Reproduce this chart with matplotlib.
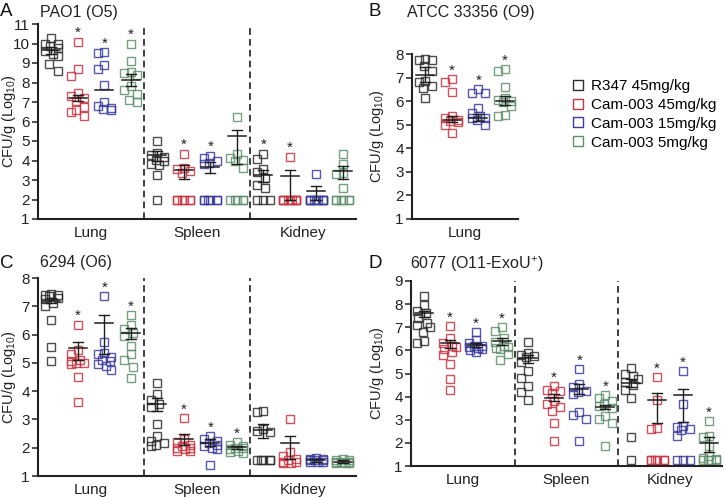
import numpy as np
import matplotlib
matplotlib.use("Agg")
import matplotlib.pyplot as plt
from matplotlib.lines import Line2D

plt.rcParams['font.family'] = ['Liberation Sans', 'DejaVu Sans']
plt.rcParams['mathtext.fontset'] = 'custom'
plt.rcParams['mathtext.rm'] = 'Liberation Sans'
plt.rcParams['mathtext.it'] = 'Liberation Sans:italic'

GROUPS = ["R347 45mg/kg", "Cam-003 45mg/kg", "Cam-003 15mg/kg", "Cam-003 5mg/kg"]
ORGANS = ["Lung", "Spleen", "Kidney"]

# ---------------- Panel A: PAO1 (O5) ----------------
A_LUNG = [
    [10.3, 10.0, 9.95, 9.85, 9.75, 9.6, 9.45, 9.35, 8.95, 8.6],
    [10.1, 8.7, 8.35, 7.45, 7.3, 7.2, 7.05, 6.75, 6.6, 6.5, 6.3],
    [9.55, 9.5, 8.9, 8.7, 7.85, 7.0, 6.8, 6.7, 6.65, 6.6],
    [10.0, 9.1, 8.55, 8.5, 8.4, 7.8, 7.6, 7.4, 7.1, 7.0],
]
A_SPLEEN = [
    [5.0, 4.4, 4.3, 4.2, 4.05, 3.95, 3.8, 3.75, 3.25, 2.0],
    [4.35, 3.6, 3.55, 3.45, 3.35, 2.0, 2.0, 2.0, 2.0, 2.0, 2.0],
    [4.25, 4.15, 4.0, 3.85, 3.8, 2.0, 2.0, 2.0, 2.0, 2.0, 2.0],
    [6.25, 4.35, 4.15, 4.05, 3.95, 3.6, 2.0, 2.0, 2.0, 2.0, 2.0],
]
A_KIDNEY = [
    [4.35, 4.1, 3.55, 3.4, 3.1, 2.75, 2.6, 2.0, 2.0, 2.0],
    [4.2, 2.0, 2.0, 2.0, 2.0, 2.0, 2.0, 2.0, 2.0, 2.0],
    [3.3, 2.0, 2.0, 2.0, 2.0, 2.0, 2.0, 2.0, 2.0, 2.0],
    [4.35, 3.8, 3.35, 3.3, 2.6, 2.0, 2.0, 2.0, 2.0, 2.0, 2.0],
]
A_MEAN = [9.65, 7.2, 7.63, 8.12, 4.3, 3.5, 3.65, 5.25, 3.25, 3.22, 2.45, 3.48]
A_HI = [9.8, 7.35, 7.63, 8.45, 4.5, 3.75, 3.9, 5.55, 3.5, 3.5, 2.7, 3.7]
A_LO = [9.45, 7.05, 7.63, 7.8, 4.0, 3.05, 3.35, 3.8, 2.9, 2.0, 2.0, 3.05]
A_STAR = [0, 1, 1, 1, 0, 1, 1, 0, 1, 1, 0, 0]

# ---------------- Panel B: ATCC 33356 (O9) ----------------
B_LUNG = [
    [7.8, 7.75, 7.75, 7.5, 7.3, 6.85, 6.8, 6.65, 6.55, 6.15],
    [6.95, 6.8, 6.4, 5.35, 5.3, 5.2, 5.15, 5.1, 5.0, 4.65],
    [6.5, 6.35, 6.35, 5.7, 5.5, 5.35, 5.3, 5.3, 5.2, 5.0],
    [7.35, 7.3, 6.6, 6.15, 6.05, 6.0, 5.95, 5.8, 5.4, 5.35],
]
B_MEAN = [7.1, 5.22, 5.3, 6.02]
B_HI = [7.45, 5.35, 5.45, 6.2]
B_LO = [6.8, 5.1, 5.15, 5.85]
B_STAR = [0, 1, 1, 1]

# ---------------- Panel C: 6294 (O6) ----------------
C_LUNG = [
    [7.45, 7.4, 7.4, 7.35, 7.3, 7.25, 7.1, 7.0, 6.5, 5.55, 5.05],
    [6.35, 5.45, 5.3, 5.1, 5.05, 5.0, 5.0, 4.95, 4.5, 3.6],
    [7.35, 5.75, 5.35, 5.3, 5.2, 5.1, 5.05, 4.95, 4.9, 4.75],
    [6.7, 6.35, 6.2, 6.05, 5.95, 5.6, 5.3, 5.1, 4.85, 4.45],
]
C_SPLEEN = [
    [4.3, 3.9, 3.7, 3.55, 3.45, 2.85, 2.4, 2.25, 2.15, 2.1, 2.05],
    [3.05, 2.3, 2.2, 2.1, 2.05, 2.0, 2.0, 1.95, 1.9, 1.9],
    [2.4, 2.3, 2.25, 2.15, 2.1, 2.05, 2.0, 1.95, 1.4],
    [2.2, 2.1, 2.05, 2.0, 2.0, 1.95, 1.9, 1.85, 1.8],
]
C_KIDNEY = [
    [3.3, 3.25, 2.65, 2.6, 2.55, 1.55, 1.55, 1.55, 1.55, 1.55],
    [3.0, 1.85, 1.7, 1.6, 1.55, 1.5, 1.5, 1.45, 1.45],
    [1.65, 1.6, 1.6, 1.55, 1.55, 1.55, 1.5, 1.5, 1.5],
    [1.6, 1.55, 1.55, 1.5, 1.5, 1.5, 1.45, 1.45, 1.45],
]
C_MEAN = [7.2, 5.52, 6.4, 6.05, 3.55, 2.3, 2.15, 2.02, 2.62, 2.15, 1.55, 1.5]
C_HI = [7.3, 5.75, 6.7, 6.25, 3.75, 2.48, 2.3, 2.07, 2.85, 2.4, 1.6, 1.55]
C_LO = [7.1, 5.1, 5.3, 5.85, 3.3, 2.1, 2.05, 1.97, 2.35, 1.6, 1.5, 1.45]
C_STAR = [0, 1, 1, 1, 0, 1, 1, 1, 0, 0, 0, 0]

# ---------------- Panel D: 6077 (O11-ExoU+) ----------------
D_LUNG = [
    [8.35, 7.95, 7.7, 7.6, 7.4, 7.2, 7.1, 7.0, 6.8, 6.4, 6.3],
    [7.05, 6.55, 6.3, 6.2, 6.15, 6.05, 5.95, 5.8, 5.4, 4.75, 4.3],
    [6.8, 6.45, 6.3, 6.2, 6.2, 6.15, 6.1, 6.05, 6.0, 5.95],
    [7.0, 6.85, 6.55, 6.35, 6.2, 6.15, 6.1, 6.05, 5.85, 5.6],
]
D_SPLEEN = [
    [6.35, 5.9, 5.8, 5.75, 5.7, 5.5, 5.1, 4.8, 4.45, 4.2, 3.85],
    [4.45, 4.3, 4.25, 4.15, 3.8, 3.7, 3.55, 3.4, 2.85, 2.1],
    [5.2, 4.55, 4.4, 4.25, 4.2, 4.1, 3.35, 3.2, 3.05, 2.1],
    [4.05, 3.95, 3.8, 3.7, 3.6, 3.5, 3.15, 3.05, 2.85, 1.85],
]
D_KIDNEY = [
    [5.25, 5.0, 4.9, 4.75, 4.65, 4.5, 4.3, 3.95, 2.25, 1.25],
    [4.85, 3.85, 2.65, 2.6, 1.25, 1.25, 1.25, 1.25, 1.25, 1.25],
    [5.1, 3.7, 2.75, 2.7, 2.6, 2.55, 2.3, 1.25, 1.25, 1.25],
    [2.95, 2.3, 2.25, 1.85, 1.45, 1.35, 1.3, 1.25, 1.25, 1.25, 1.25],
]
D_MEAN = [7.6, 6.3, 6.25, 6.4, 5.65, 3.95, 4.35, 3.55, 4.6, 3.85, 4.05, 2.0]
D_HI = [7.7, 6.45, 6.3, 6.55, 5.8, 4.1, 4.55, 3.65, 4.75, 4.15, 4.35, 2.25]
D_LO = [7.45, 6.1, 6.15, 6.25, 5.45, 3.8, 4.1, 3.45, 4.4, 2.85, 2.9, 1.6]
D_STAR = [0, 1, 1, 1, 0, 1, 1, 1, 0, 1, 1, 1]

COLORS = ['#2e2e2e', '#cc3340', '#3b3b9e', '#5f8f6c']
INK = '#1e1e1e'
FS = 11

W, H = 724, 497
fig = plt.figure(figsize=(W / 100, H / 100), dpi=100)


def add_axes(left, top, right, bottom):
    return fig.add_axes([left / W, 1 - bottom / H, (right - left) / W, (bottom - top) / H])


def swarm(vals, pxy, size=8.0, maxoff=6.5, step=0.65):
    vals = np.asarray(vals, dtype=float)
    order = np.argsort(-vals, kind='stable')
    cands = np.arange(-maxoff, maxoff + 1e-9, step)
    cands = cands[np.argsort(np.abs(cands), kind='stable')]
    ys = vals * pxy
    placed = []
    offs = np.zeros(len(vals))
    for i in order:
        best, bestscore = 0.0, None
        for c in cands:
            score = 0.0
            for (px, py) in placed:
                ox = size - abs(c - px)
                oy = size - abs(ys[i] - py)
                if ox > 0 and oy > 0:
                    score += ox * oy
            if bestscore is None or score < bestscore - 1e-9:
                best, bestscore = c, score
        offs[i] = best
        placed.append((best, ys[i]))
    return offs


def draw_panel(ax, organ_sets, mids, his, los, stars, ymin, ymax, names):
    n_org = len(organ_sets)
    ax.set_xlim(0, 4 * n_org)
    ax.set_ylim(ymin, ymax)
    pos = ax.get_position()
    pxx = pos.width * W / (4 * n_org)
    pxy = pos.height * H / (ymax - ymin)
    for oi, groups in enumerate(organ_sets):
        for gi, vals in enumerate(groups):
            k = oi * 4 + gi
            cx = oi * 4 + gi + 0.5
            offs = swarm(vals, pxy)
            xs = cx + offs / pxx
            ax.plot(xs, vals, ls='none', marker='s', ms=5.9, mfc='none',
                    mec=COLORS[gi], mew=1.0, alpha=0.85, zorder=2, clip_on=False)
            m, hi, lo = mids[k], his[k], los[k]
            ax.plot([cx - 9 / pxx, cx + 9 / pxx], [m, m], color=INK, lw=1.1, zorder=3)
            if hi > lo:
                ax.plot([cx, cx], [lo, hi], color=INK, lw=1.0, zorder=3)
                ax.plot([cx - 5 / pxx, cx + 5 / pxx], [hi, hi], color=INK, lw=1.0, zorder=3)
                ax.plot([cx - 5 / pxx, cx + 5 / pxx], [lo, lo], color=INK, lw=1.0, zorder=3)
            if stars[k]:
                ax.annotate('*', (cx, max(vals)), xytext=(0, 3.2), textcoords='offset points',
                            ha='center', va='baseline', fontsize=11, color=INK)
    for b in range(1, n_org):
        ax.axvline(4 * b, color=INK, ls=(0, (4, 2.5)), lw=1.2, zorder=1)
    for s in ('top', 'right'):
        ax.spines[s].set_visible(False)
    for s in ('left', 'bottom'):
        ax.spines[s].set_linewidth(1.5)
        ax.spines[s].set_color('#222222')
    ax.set_yticks(np.arange(int(ymin), int(ymax) + 1))
    ax.tick_params(axis='y', direction='out', length=4, width=1.1, labelsize=FS,
                   color='#222222', labelcolor='#222222', pad=2)
    ax.set_xticks([4 * i + 2 for i in range(n_org)])
    ax.set_xticklabels(names[:n_org])
    ax.tick_params(axis='x', length=0, labelsize=FS, labelcolor='#222222', pad=5)


axA = add_axes(38, 24, 356, 219)
draw_panel(axA, [A_LUNG, A_SPLEEN, A_KIDNEY], A_MEAN, A_HI, A_LO, A_STAR, 1, 11, ORGANS)
axB = add_axes(412, 54, 518, 219)
draw_panel(axB, [B_LUNG], B_MEAN, B_HI, B_LO, B_STAR, 1, 8, ORGANS)
axC = add_axes(38, 278, 356, 476)
draw_panel(axC, [C_LUNG, C_SPLEEN, C_KIDNEY], C_MEAN, C_HI, C_LO, C_STAR, 1, 8, ORGANS)
axD = add_axes(411, 281, 722, 466)
draw_panel(axD, [D_LUNG, D_SPLEEN, D_KIDNEY], D_MEAN, D_HI, D_LO, D_STAR, 1, 9, ORGANS)


def ftext(x, y, s, **kw):
    fig.text(x / W, 1 - y / H, s, **kw)


ylab = 'CFU/g (Log$_{10}$)'
for (x, y) in [(9, 121), (377, 136), (9, 377), (377, 373)]:
    ftext(x, y, ylab, rotation=90, ha='center', va='center', fontsize=10.5, color='#222222')

for (x, y, letter) in [(0, 12, 'A'), (369, 12, 'B'), (0, 263, 'C'), (369, 263, 'D')]:
    ftext(x, y, letter, ha='left', va='center', fontsize=13.5, color='#111111')
ftext(40, 12, 'PAO1 (O5)', ha='left', va='center', fontsize=11.5, color='#222222')
ftext(407, 12, 'ATCC 33356 (O9)', ha='left', va='center', fontsize=11.5, color='#222222')
ftext(40, 263, '6294 (O6)', ha='left', va='center', fontsize=11.5, color='#222222')
ftext(410, 264, '6077 (O11-ExoU$^{+}$)', ha='left', va='center', fontsize=11.5, color='#222222')

handles = [Line2D([], [], ls='none', marker='s', ms=6.5, mfc='none', mec=c, mew=1.0)
           for c in COLORS]
fig.legend(handles, GROUPS, loc='upper left', bbox_to_anchor=(572 / W, 1 - 79 / H),
           frameon=False, fontsize=FS, handlelength=0.8, handletextpad=0.45,
           labelspacing=0.32, borderaxespad=0, borderpad=0)

fig.savefig('out.png', dpi=100)
